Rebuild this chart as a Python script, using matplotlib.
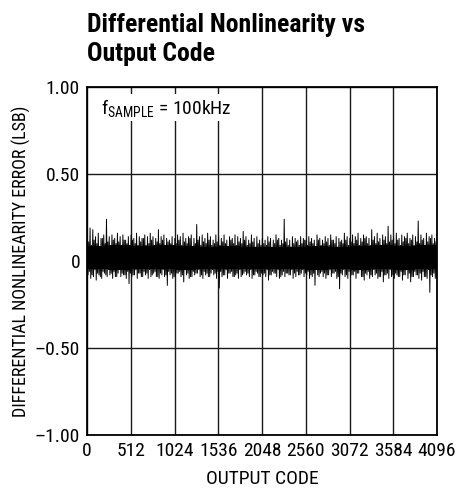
#!/usr/bin/env python3
"""
DNL vs output code - recreated datasheet plot.
"""

import numpy as np
import matplotlib
matplotlib.use('Agg')
import matplotlib.pyplot as plt

plt.rcParams['font.family'] = ['Roboto Condensed', 'DejaVu Sans Condensed', 'Roboto']
plt.rcParams['font.stretch'] = 'condensed'
plt.rcParams['mathtext.default'] = 'regular'

# ── Data ───────────────────────────────────────────────────
# DNL per 32-code bin: largest upper / lower excursion, LSB
BIN_WIDTH = 32
peak_hi = [
    0.15, 0.19, 0.18, 0.14, 0.16, 0.13, 0.15, 0.24, 0.14, 0.15, 0.13, 0.16, 0.14, 0.15, 0.12, 0.14,
    0.15, 0.13, 0.16, 0.14, 0.13, 0.15, 0.14, 0.16, 0.14, 0.13, 0.18, 0.14, 0.15, 0.13, 0.12, 0.14,
    0.13, 0.15, 0.14, 0.16, 0.13, 0.14, 0.15, 0.13, 0.21, 0.14, 0.15, 0.13, 0.16, 0.14, 0.12, 0.15,
    0.14, 0.13, 0.15, 0.12, 0.14, 0.13, 0.15, 0.14, 0.13, 0.17, 0.14, 0.12, 0.15, 0.13, 0.14, 0.12,
    0.13, 0.12, 0.14, 0.13, 0.12, 0.15, 0.13, 0.12, 0.24, 0.13, 0.12, 0.14, 0.13, 0.12, 0.14, 0.13,
    0.12, 0.14, 0.13, 0.12, 0.15, 0.13, 0.12, 0.14, 0.13, 0.15, 0.12, 0.14, 0.13, 0.12, 0.16, 0.14,
    0.13, 0.15, 0.14, 0.16, 0.13, 0.15, 0.14, 0.13, 0.18, 0.14, 0.16, 0.13, 0.15, 0.14, 0.20, 0.15,
    0.14, 0.16, 0.13, 0.15, 0.14, 0.16, 0.13, 0.15, 0.14, 0.23, 0.15, 0.13, 0.16, 0.14, 0.15, 0.13,
]
peak_lo = [
    -0.08, -0.10, -0.09, -0.11, -0.08, -0.10, -0.07, -0.09, -0.08, -0.10, -0.09, -0.07, -0.09, -0.08, -0.10, -0.13,
    -0.09, -0.08, -0.10, -0.07, -0.09, -0.08, -0.10, -0.09, -0.07, -0.09, -0.10, -0.08, -0.09, -0.14, -0.08, -0.10,
    -0.09, -0.07, -0.09, -0.12, -0.08, -0.10, -0.09, -0.08, -0.07, -0.09, -0.10, -0.08, -0.09, -0.07, -0.08, -0.10,
    -0.155, -0.09, -0.08, -0.10, -0.07, -0.09, -0.08, -0.10, -0.09, -0.07, -0.08, -0.09, -0.10, -0.08, -0.07, -0.09,
    -0.08, -0.09, -0.11, -0.08, -0.07, -0.09, -0.10, -0.08, -0.09, -0.07, -0.08, -0.10, -0.09, -0.08, -0.07, -0.09,
    -0.08, -0.10, -0.09, -0.14, -0.08, -0.07, -0.09, -0.10, -0.08, -0.09, -0.07, -0.10, -0.16, -0.08, -0.09, -0.10,
    -0.09, -0.08, -0.10, -0.07, -0.09, -0.11, -0.08, -0.10, -0.09, -0.08, -0.10, -0.09, -0.12, -0.08, -0.10, -0.09,
    -0.10, -0.08, -0.09, -0.11, -0.08, -0.10, -0.12, -0.09, -0.08, -0.10, -0.11, -0.09, -0.10, -0.18, -0.09, -0.10,
]
# second, smaller excursion inside each 32-code bin
mid_hi = [
    0.11, 0.09, 0.12, 0.10, 0.08, 0.13, 0.10, 0.11, 0.09, 0.12, 0.10, 0.11, 0.08, 0.12, 0.10, 0.09,
    0.12, 0.10, 0.09, 0.11, 0.13, 0.09, 0.10, 0.12, 0.08, 0.11, 0.10, 0.12, 0.09, 0.11, 0.10, 0.08,
    0.10, 0.12, 0.09, 0.11, 0.10, 0.13, 0.08, 0.10, 0.12, 0.09, 0.11, 0.10, 0.12, 0.09, 0.10, 0.11,
    0.09, 0.11, 0.10, 0.08, 0.12, 0.10, 0.09, 0.11, 0.10, 0.12, 0.09, 0.10, 0.11, 0.08, 0.10, 0.09,
    0.10, 0.09, 0.11, 0.08, 0.10, 0.12, 0.09, 0.10, 0.11, 0.09, 0.08, 0.10, 0.11, 0.09, 0.10, 0.12,
    0.09, 0.11, 0.10, 0.08, 0.12, 0.09, 0.10, 0.11, 0.09, 0.12, 0.10, 0.08, 0.11, 0.10, 0.12, 0.09,
    0.11, 0.10, 0.12, 0.09, 0.11, 0.13, 0.10, 0.09, 0.12, 0.10, 0.11, 0.09, 0.12, 0.10, 0.11, 0.12,
    0.10, 0.12, 0.09, 0.11, 0.13, 0.10, 0.12, 0.09, 0.11, 0.10, 0.12, 0.09, 0.11, 0.13, 0.10, 0.11,
]
mid_lo = [
    -0.06, -0.08, -0.05, -0.07, -0.09, -0.06, -0.08, -0.05, -0.07, -0.06, -0.09, -0.05, -0.07, -0.08, -0.06, -0.07,
    -0.08, -0.05, -0.07, -0.09, -0.06, -0.07, -0.05, -0.08, -0.06, -0.09, -0.07, -0.05, -0.08, -0.06, -0.07, -0.09,
    -0.07, -0.06, -0.08, -0.05, -0.07, -0.09, -0.06, -0.07, -0.05, -0.08, -0.06, -0.07, -0.09, -0.05, -0.07, -0.06,
    -0.06, -0.08, -0.05, -0.07, -0.06, -0.09, -0.07, -0.05, -0.08, -0.06, -0.07, -0.05, -0.08, -0.06, -0.09, -0.07,
    -0.07, -0.05, -0.08, -0.06, -0.07, -0.05, -0.09, -0.06, -0.07, -0.08, -0.05, -0.07, -0.06, -0.08, -0.05, -0.07,
    -0.06, -0.08, -0.07, -0.05, -0.09, -0.06, -0.07, -0.08, -0.05, -0.07, -0.06, -0.09, -0.07, -0.05, -0.08, -0.06,
    -0.08, -0.06, -0.07, -0.05, -0.09, -0.07, -0.06, -0.08, -0.05, -0.07, -0.09, -0.06, -0.08, -0.07, -0.05, -0.08,
    -0.07, -0.09, -0.06, -0.08, -0.05, -0.07, -0.09, -0.06, -0.08, -0.07, -0.06, -0.09, -0.05, -0.08, -0.07, -0.09,
]
# dense core of the trace per 256-code segment
SEG_WIDTH = 256
core_hi = [0.085, 0.09, 0.085, 0.09, 0.085, 0.08, 0.085, 0.08,
           0.08, 0.08, 0.085, 0.08, 0.085, 0.09, 0.085, 0.09]
core_lo = [-0.045, -0.05, -0.045, -0.045, -0.05, -0.045, -0.045, -0.045,
           -0.045, -0.045, -0.05, -0.045, -0.05, -0.045, -0.05, -0.045]

x_ticks = [0, 512, 1024, 1536, 2048, 2560, 3072, 3584, 4096]
y_ticks = [-1.0, -0.5, 0.0, 0.5, 1.0]
y_tick_labels = ['\u20131.00', '\u20130.50', '0', '0.50', '1.00']

# ── Figure ─────────────────────────────────────────────────
W, H = 457, 490
fig = plt.figure(figsize=(W / 100, H / 100), dpi=100, facecolor='white')
ax = fig.add_axes([87 / W, 1 - 435 / H, 350 / W, 348 / H])

ax.set_xlim(0, 4096)
ax.set_ylim(-1.0, 1.0)
ax.set_xticks(x_ticks)
ax.set_yticks(y_ticks)
ax.set_yticklabels(y_tick_labels)
ax.tick_params(length=0, labelsize=14, pad=5, colors='black')
ax.grid(True, color='#1a1a1a', lw=1.0)
ax.set_axisbelow(True)
for sp in ax.spines.values():
    sp.set_linewidth(1.3)

# trace: zigzag through the excursions of each bin
centers = np.arange(len(peak_hi)) * BIN_WIDTH + BIN_WIDTH / 2
q = BIN_WIDTH / 8
xs = np.column_stack([centers - 3 * q, centers - q, centers + q, centers + 3 * q]).ravel()
ys = np.column_stack([peak_hi, peak_lo, mid_hi, mid_lo]).ravel()
edges = np.arange(len(core_hi) + 1) * SEG_WIDTH
ax.fill_between(edges, core_lo + core_lo[-1:], core_hi + core_hi[-1:],
                step='post', color='black', lw=0, zorder=3)
ax.plot(xs, ys, color='black', lw=0.7, zorder=3)

ax.text(0.04, 0.972, 'f$_{SAMPLE}$ = 100kHz', transform=ax.transAxes,
        fontsize=14, ha='left', va='top', zorder=5,
        bbox=dict(facecolor='white', edgecolor='none', pad=2))

ax.set_xlabel('OUTPUT CODE', fontsize=14, labelpad=7)
ax.set_ylabel('DIFFERENTIAL NONLINEARITY ERROR (LSB)', fontsize=13, labelpad=3)

fig.text(87 / W, 1 - 32 / H, 'Differential Nonlinearity vs',
         fontsize=18.5, fontweight='bold', ha='left', va='baseline')
fig.text(87 / W, 1 - 61 / H, 'Output Code',
         fontsize=18.5, fontweight='bold', ha='left', va='baseline')

fig.savefig('out.png', dpi=100, facecolor='white')
